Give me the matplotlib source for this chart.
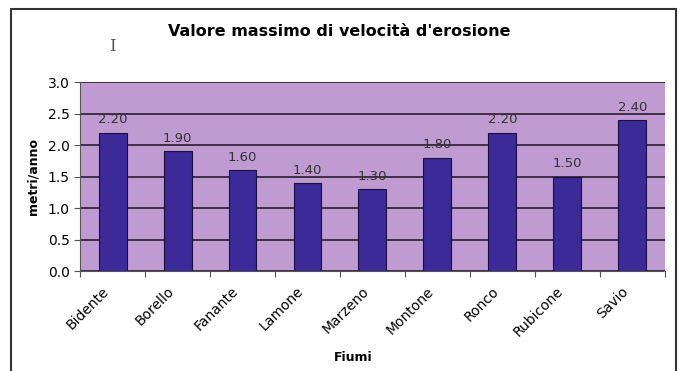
import matplotlib.pyplot as plt
import matplotlib.transforms as mtransforms
from matplotlib.patches import Rectangle

fiumi = ['Bidente', 'Borello', 'Fanante', 'Lamone', 'Marzeno',
         'Montone', 'Ronco', 'Rubicone', 'Savio']
velocita = [2.20, 1.90, 1.60, 1.40, 1.30, 1.80, 2.20, 1.50, 2.40]
y_ticks = [0.0, 0.5, 1.0, 1.5, 2.0, 2.5, 3.0]

fig = plt.figure(figsize=(6.79, 3.71), dpi=100)
ax = fig.add_axes([0.118, 0.2695, 0.861, 0.509])

# sfondo stile Excel
ax.set_facecolor('#bf9bd1')
ax.set_axisbelow(True)
ax.yaxis.grid(True, color='#2a1c2e', linewidth=1.2)

x = list(range(len(fiumi)))
ax.bar(x, velocita, width=0.43, color='#3b2a98', edgecolor='#1a1040', linewidth=0.8)

for xi, v in zip(x, velocita):
    ax.text(xi, v + 0.1, f'{v:.2f}', ha='center', va='bottom', fontsize=9.5, color='#333333')

ax.set_xlim(-0.5, len(fiumi) - 0.5)
ax.set_ylim(0, 3.0)
ax.set_yticks(y_ticks)
ax.set_yticklabels([f'{t:.1f}' for t in y_ticks], fontsize=10)

# tick alle separazioni tra categorie, etichette al centro
ax.set_xticks([i - 0.5 for i in range(len(fiumi) + 1)])
ax.set_xticklabels([])
ax.set_xticks(x, minor=True)
ax.set_xticklabels(fiumi, minor=True, rotation=45, ha='right', va='center',
                   rotation_mode='anchor', fontsize=10)
ax.tick_params(axis='x', which='minor', length=0, pad=13)
ax.tick_params(axis='x', which='major', length=4, direction='out', color='#555555')
ax.tick_params(axis='y', length=4, direction='out', color='#555555')
shift = mtransforms.ScaledTranslation(-6 / 100, 0, fig.dpi_scale_trans)
for lab in ax.get_xticklabels(minor=True):
    lab.set_transform(lab.get_transform() + shift)

for s in ['top', 'right']:
    ax.spines[s].set_visible(False)
ax.spines['left'].set_color('#555555')
ax.spines['bottom'].set_color('#555555')

ax.set_ylabel('metri/anno', fontsize=9, fontweight='bold', labelpad=6)
fig.text(0.52, 0.037, 'Fiumi', fontsize=9, fontweight='bold', ha='center', va='center')
fig.text(0.5, 0.915, "Valore massimo di velocità d'erosione", fontsize=11.5,
         fontweight='bold', ha='center', va='center')
fig.text(0.165, 0.875, 'I', fontsize=12, family='serif', color='#555555', ha='center', va='center')

# cornice della figura
fig.patches.append(Rectangle((11 / 679, -0.01), 665 / 679, 1 - 9 / 371 + 0.01,
                             transform=fig.transFigure, fill=False,
                             edgecolor='#333333', linewidth=1.5))

plt.savefig('out.png', dpi=100)
plt.close()
